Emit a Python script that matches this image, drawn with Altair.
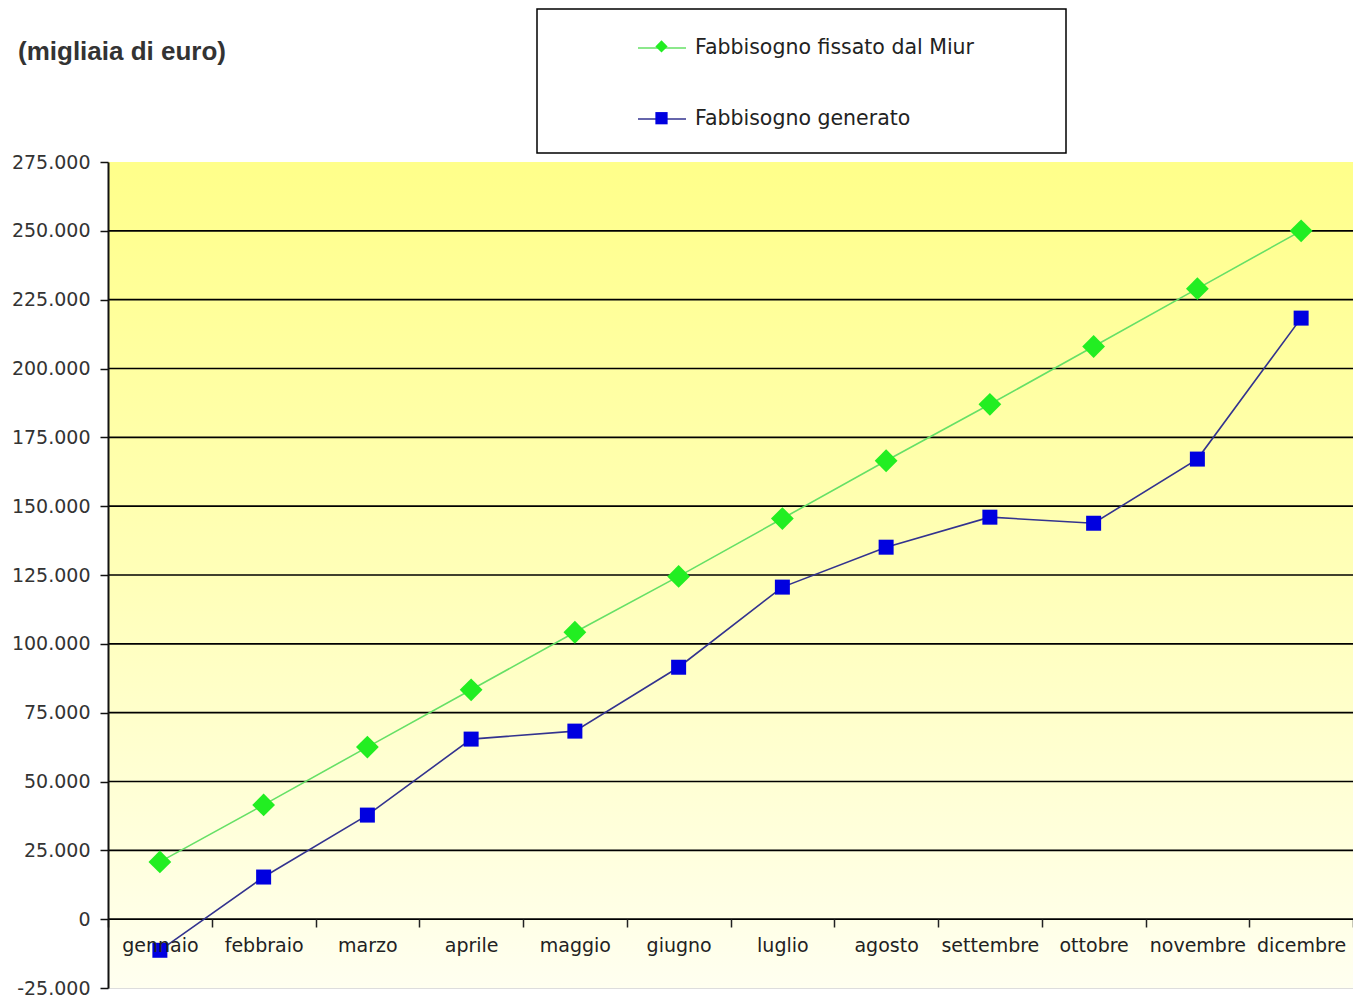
import altair as alt
import pandas as pd

mesi = ["gennaio", "febbraio", "marzo", "aprile", "maggio", "giugno",
        "luglio", "agosto", "settembre", "ottobre", "novembre", "dicembre"]
miur = [20800, 41500, 62500, 83300, 104200, 124500, 145500, 166500, 187000, 208000, 229000, 250000]
generato = [-11300, 15300, 37800, 65400, 68300, 91500, 120600, 135100, 146000, 143800, 167100, 218300]
serie = ["Fabbisogno fissato dal Miur", "Fabbisogno generato"]
y_ticks = list(range(-25000, 275001, 25000))
grid_vals = list(range(0, 250001, 25000))
titolo = "(migliaia di euro)"

rows = []
for m, a, b in zip(mesi, miur, generato):
    rows.append({"mese": m, "serie": serie[0], "valore": a})
    rows.append({"mese": m, "serie": serie[1], "valore": b})
df = pd.DataFrame(rows)

W, H = 1245, 826
FONT = "DejaVu Sans"

xenc = alt.X("mese:N", sort=mesi, title=None,
             scale=alt.Scale(paddingInner=0, paddingOuter=0),
             axis=alt.Axis(offset=-69, domain=False, tickBand="extent", tickSize=8,
                           tickColor="#222", tickWidth=1.5, labelAngle=0, labelFontSize=19,
                           labelColor="#222", labelPadding=9, labelFont=FONT,
                           grid=False, zindex=1))
yscale = alt.Scale(domain=[-25000, 275000], nice=False)
yaxis = alt.Axis(values=y_ticks, domain=True, domainColor="#111", domainWidth=2,
                 tickSize=8, tickColor="#111", tickWidth=1.5,
                 labelFontSize=19, labelColor="#333", labelPadding=10,
                 labelFont=FONT,
                 labelExpr="replace(replace(format(datum.value, ','), ',', '.'), '\u2212', '-')",
                 grid=False, zindex=1)
yenc = alt.Y("valore:Q", scale=yscale, title=None, axis=yaxis)

line_dom = [serie[1], serie[0]]
line_scale = alt.Scale(domain=line_dom, range=["#33338F", "#66E066"])
fill_scale = alt.Scale(domain=serie, range=["#22EE22", "#0000E0"])
shape_scale = alt.Scale(domain=serie, range=["diamond", "square"])

bg = alt.Chart(pd.DataFrame({"a": [0]})).mark_rect(
    color=alt.LinearGradient(gradient="linear", x1=0, x2=0, y1=0, y2=1,
                             stops=[alt.GradientStop(offset=0, color="#FFFF8A"),
                                    alt.GradientStop(offset=0.5, color="#FFFFB8"),
                                    alt.GradientStop(offset=1, color="#FFFFF0")])
).encode(x=alt.value(0), x2=alt.value(W), y=alt.value(0), y2=alt.value(H))

grid = alt.Chart(pd.DataFrame({"valore": grid_vals})).mark_rule(
    color="#000", strokeWidth=1.6
).encode(y=yenc)

frame = alt.Chart(pd.DataFrame({"a": [0]})).mark_rect(
    fill=None, stroke="#000", strokeWidth=1.5
).encode(x=alt.value(429), x2=alt.value(958), y=alt.value(-153), y2=alt.value(-9))

title_txt = alt.Chart(pd.DataFrame({"t": [titolo]})).mark_text(
    align="left", baseline="middle", fontSize=26, fontWeight="bold",
    font="Liberation Sans", color="#333"
).encode(text="t:N", x=alt.value(-90), y=alt.value(-110))

lines = alt.Chart(df).mark_line(strokeWidth=1.6).encode(
    x=xenc, y=yenc,
    stroke=alt.Stroke("serie:N", scale=line_scale,
                      legend=alt.Legend(title=None, orient="none", legendX=529, legendY=-139,
                                        values=serie,
                                        padding=0, labelFontSize=20.5, labelColor="#222",
                                        labelFont=FONT, labelLimit=400,
                                        labelOffset=8,
                                        symbolType="M-1,0H1", symbolSize=2304,
                                        symbolStrokeWidth=1.6, rowPadding=35))
)

pt_legend = alt.Legend(title=None, orient="none", legendX=547, legendY=-122.1,
                       padding=0, labelFontSize=1, labelOpacity=0, labelExpr="''",
                       labelFont=FONT, labelLimit=400,
                       symbolSize=150, symbolStrokeWidth=0, rowPadding=58.8,
                       symbolOpacity=1)

pts_miur = alt.Chart(df[df.serie == serie[0]]).mark_point(
    size=520, filled=True, opacity=1
).encode(x=xenc, y=yenc,
         fill=alt.Fill("serie:N", scale=fill_scale, sort=serie, legend=pt_legend),
         shape=alt.Shape("serie:N", scale=shape_scale, sort=serie, legend=pt_legend))

pts_gen = alt.Chart(df[df.serie == serie[1]]).mark_point(
    size=225, filled=True, opacity=1
).encode(x=xenc, y=yenc,
         fill=alt.Fill("serie:N", scale=fill_scale, sort=serie, legend=pt_legend),
         shape=alt.Shape("serie:N", scale=shape_scale, sort=serie, legend=pt_legend))

chart = alt.layer(bg, grid, lines, pts_miur, pts_gen, frame, title_txt).properties(
    width=W, height=H,
    autosize=alt.AutoSizeParams(type="none"),
    padding={"left": 100, "top": 154, "right": 0, "bottom": 10}
).configure_view(stroke="#888866", strokeWidth=1.5).configure(background="white")

chart.save("out.html", embed_options={"renderer": "svg", "actions": False})
